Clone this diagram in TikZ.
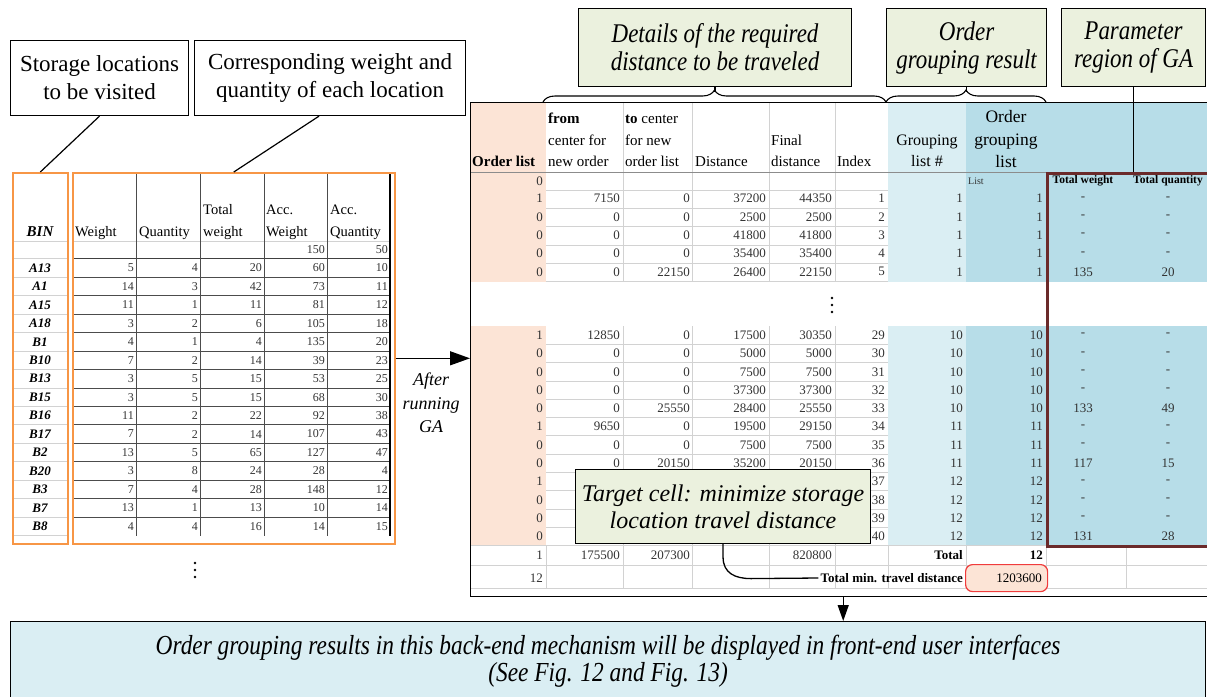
\documentclass[tikz,border=0pt]{standalone}
\usepackage{fontspec}
\setmainfont{Liberation Serif}
\newfontfamily\narrowserif[FakeStretch=0.85]{Liberation Serif}
\usetikzlibrary{decorations.pathreplacing,arrows.meta}

\definecolor{cellpink}{HTML}{FCE4D6}
\definecolor{lightblue}{HTML}{DAEEF3}
\definecolor{midblue}{HTML}{B7DDE8}
\definecolor{notegreen}{HTML}{EBF1DE}
\definecolor{frameorange}{HTML}{F79646}
\definecolor{paramred}{HTML}{6B2A2A}
\definecolor{gridgray}{HTML}{D2D2D2}
\definecolor{targetred}{HTML}{F03C3C}
\definecolor{celltext}{HTML}{333333}

\begin{document}
\begin{tikzpicture}[x=1pt,y=-1pt,
  every node/.style={inner sep=0pt},
  labelbox/.style={draw=black,line width=1.1pt,fill=white,align=center,
    font=\fontsize{23}{28}\selectfont},
  notebox/.style={draw=black,line width=1.1pt,fill=notegreen,align=center,
    font=\narrowserif\itshape\fontsize{27}{28}\selectfont},
  lhdr/.style={anchor=base west,font=\fontsize{14.5}{16}\selectfont},
  lnum/.style={anchor=east,text=celltext,font=\fontsize{12}{14}\selectfont},
  lbin/.style={font=\bfseries\itshape\fontsize{13}{14}\selectfont},
  rhdr/.style={anchor=base west,font=\fontsize{15}{17}\selectfont},
  rnum/.style={anchor=east,text=celltext,font=\fontsize{13}{15}\selectfont},
  rbold/.style={anchor=east,font=\bfseries\fontsize{13}{15}\selectfont},
  rdash/.style={text=celltext,font=\fontsize{13}{15}\selectfont},
  gridl/.style={draw=gridgray,line width=0.8pt},
  darkgrid/.style={draw=black!70,line width=0.9pt},
  orangeframe/.style={draw=frameorange,line width=1.6pt,anchor=north west},
  connector/.style={draw=black,line width=1.2pt},
  bigarrow/.style={draw=black,line width=1.3pt,-{Triangle[length=20pt,width=14pt]}},
  downarrow/.style={draw=black,line width=1.3pt,-{Triangle[length=16pt,width=11pt]}},
  bracket/.style={draw=black,line width=1.1pt,decorate,decoration={brace,amplitude=12pt}}
]
\useasboundingbox (0,0) rectangle (1207,696);

% ---------------- input table: bins, weights and quantities ----------------
% grid of the BIN column
\draw[gridl] (12,241) -- (67,241);
\foreach \k in {0,...,15}
  \draw[gridl] (12,{258.8+18.45*\k}) -- (67,{258.8+18.45*\k});
% grid of the data columns
\draw[gridl] (72,241) -- (390,241);
\draw[draw=black!75,line width=1.3pt] (72,258.8) -- (390,258.8);
\foreach \k in {1,...,14}
  \draw[darkgrid] (72,{258.8+18.45*\k}) -- (390,{258.8+18.45*\k});
\foreach \gx in {136,200,264,327}
  \draw[darkgrid] (\gx,172) -- (\gx,535.5);
\draw[draw=black,line width=1.8pt] (390,172) -- (390,535.5);

% column headings
\node[lhdr,anchor=base,font=\bfseries\itshape\fontsize{15}{16}\selectfont] (lh-bin) at (40,236.5) {BIN};
\node[lhdr] (lh-w) at (75,236.5) {Weight};
\node[lhdr] (lh-q) at (139,236.5) {Quantity};
\node[lhdr] (lh-t1) at (203,214.5) {Total};
\node[lhdr] (lh-t2) at (203,236.5) {weight};
\node[lhdr] (lh-aw1) at (266,214.5) {Acc.};
\node[lhdr] (lh-aw2) at (266,236.5) {Weight};
\node[lhdr] (lh-aq1) at (330,214.5) {Acc.};
\node[lhdr] (lh-aq2) at (330,236.5) {Quantity};
\node[lnum] (l-acc-w) at (325,250) {150};
\node[lnum] (l-acc-q) at (388,250) {50};

% one row per storage location
\foreach \bn/\w/\q/\tw/\aw/\aq [count=\n] in {
  A13/5/4/20/60/10, A1/14/3/42/73/11, A15/11/1/11/81/12, A18/3/2/6/105/18,
  B1/4/1/4/135/20, B10/7/2/14/39/23, B13/3/5/15/53/25, B15/3/5/15/68/30,
  B16/11/2/22/92/38, B17/7/2/14/107/43, B2/13/5/65/127/47, B20/3/8/24/28/4,
  B3/7/4/28/148/12, B7/13/1/13/10/14, B8/4/4/16/14/15} {
  \node[lbin] (bin-\n) at (40,{268+18.45*(\n-1)}) {\bn};
  \node[lnum] (w-\n)   at (134,{268+18.45*(\n-1)}) {\w};
  \node[lnum] (q-\n)   at (198,{268+18.45*(\n-1)}) {\q};
  \node[lnum] (tw-\n)  at (262,{268+18.45*(\n-1)}) {\tw};
  \node[lnum] (aw-\n)  at (325,{268+18.45*(\n-1)}) {\aw};
  \node[lnum] (aq-\n)  at (388,{268+18.45*(\n-1)}) {\aq};
}
% continuation dots below the input table
\foreach \dy in {563,570,577} \fill (195,\dy) circle (1.4pt);

% orange frames around the two parts of the input table
\node[orangeframe,minimum width=55,minimum height=371] (binframe) at (12,172) {};
\node[orangeframe,minimum width=322,minimum height=371] (dataframe) at (72,172) {};

% ---------------- result sheet after the GA run ----------------
\fill[cellpink] (470,102) rectangle (546,281.5);
\fill[cellpink] (470,326) rectangle (546,545.6);
\fill[lightblue] (888,102) rectangle (966,281.5);
\fill[lightblue] (888,326) rectangle (966,545.6);
\fill[midblue] (966,102) rectangle (1212,281.5);
\fill[midblue] (966,326) rectangle (1212,545.6);

% grid
\foreach \gx in {623,692,769,835} {
  \draw[gridl] (\gx,102) -- (\gx,281.5);
  \draw[gridl] (\gx,326) -- (\gx,588);
}
\foreach \gx in {546,888,966,1046,1126}
  \draw[gridl] (\gx,545.6) -- (\gx,588);
\draw[draw=black!45,line width=0.8pt] (470,172) -- (1046,172);
\foreach \k in {0,...,5}
  \draw[gridl] (546,{190+18.3*\k}) -- (888,{190+18.3*\k});
\foreach \k in {1,...,11}
  \draw[gridl] (546,{326+18.3*\k}) -- (888,{326+18.3*\k});
\foreach \gy in {545.6,565,588}
  \draw[gridl] (470,\gy) -- (1212,\gy);

% headings
\node[rhdr] (rh-ol) at (472,166) {\bfseries Order list};
\node[rhdr] (rh-fr1) at (548,123) {\bfseries from};
\node[rhdr] (rh-fr2) at (548,145) {center for};
\node[rhdr] (rh-fr3) at (548,166) {new order};
\node[rhdr] (rh-to1) at (625,123) {\textbf{to} center};
\node[rhdr] (rh-to2) at (625,145) {for new};
\node[rhdr] (rh-to3) at (625,166) {order list};
\node[rhdr] (rh-di) at (695,166) {Distance};
\node[rhdr] (rh-fd1) at (771,145) {Final};
\node[rhdr] (rh-fd2) at (771,166) {distance};
\node[rhdr] (rh-ix) at (837,166) {Index};
\node[rhdr,anchor=base,font=\fontsize{16}{18}\selectfont] (rh-gl1) at (927,145) {Grouping};
\node[rhdr,anchor=base,font=\fontsize{16}{18}\selectfont] (rh-gl2) at (927,166) {list \#};
\node[rhdr,anchor=base,font=\fontsize{17.5}{19}\selectfont] (rh-og1) at (1006,122) {Order};
\node[rhdr,anchor=base,font=\fontsize{17.5}{19}\selectfont] (rh-og2) at (1006,145) {grouping};
\node[rhdr,anchor=base,font=\fontsize{17.5}{19}\selectfont] (rh-og3) at (1006,167) {list};

% first row of the sheet
\node[rnum] (ol-0) at (543,181) {0};
\node[anchor=west,text=celltext,font=\fontsize{10}{12}\selectfont] (og-list) at (968,181) {List};
\node[font=\bfseries\fontsize{11.5}{13}\selectfont] (tw-head) at (1083,181) {Total weight};
\node[font=\bfseries\fontsize{11.5}{13}\selectfont] (tq-head) at (1168,181) {Total quantity};

% order rows: y / order list / from / to / distance / final / index / group / list / weight / quantity
\foreach \ry/\vol/\vfr/\vto/\vdi/\vfd/\vix/\vgl/\vog/\vtw/\vtq [count=\n] in {
  198.6/1/7150/0/37200/44350/1/1/1/-/-,
  216.9/0/0/0/2500/2500/2/1/1/-/-,
  235.2/0/0/0/41800/41800/3/1/1/-/-,
  253.5/0/0/0/35400/35400/4/1/1/-/-,
  271.8/0/0/22150/26400/22150/5/1/1/135/20,
  335.2/1/12850/0/17500/30350/29/10/10/-/-,
  353.5/0/0/0/5000/5000/30/10/10/-/-,
  371.8/0/0/0/7500/7500/31/10/10/-/-,
  390.1/0/0/0/37300/37300/32/10/10/-/-,
  408.4/0/0/25550/28400/25550/33/10/10/133/49,
  426.7/1/9650/0/19500/29150/34/11/11/-/-,
  445.0/0/0/0/7500/7500/35/11/11/-/-,
  463.3/0/0/20150/35200/20150/36/11/11/117/15,
  481.6/1/////37/12/12/-/-,
  499.9/0/////38/12/12/-/-,
  518.2/0/////39/12/12/-/-,
  536.5/0/////40/12/12/131/28} {
  \node[rnum] (ol-\n) at (543,\ry) {\vol};
  \node[rnum] (fr-\n) at (620,\ry) {\vfr};
  \node[rnum] (to-\n) at (690,\ry) {\vto};
  \node[rnum] (di-\n) at (766,\ry) {\vdi};
  \node[rnum] (fd-\n) at (832,\ry) {\vfd};
  \node[rnum] (ix-\n) at (885,\ry) {\vix};
  \node[rnum] (gl-\n) at (963,\ry) {\vgl};
  \node[rnum] (og-\n) at (1043,\ry) {\vog};
  \node[rdash] (twv-\n) at (1083,\ry) {\vtw};
  \node[rdash] (tqv-\n) at (1168,\ry) {\vtq};
}
% rows skipped between the two blocks
\foreach \dy in {298,305,312} \fill (832,\dy) circle (1.4pt);

% totals
\node[rnum] (ol-sum) at (543,555) {1};
\node[rnum] (fr-sum) at (620,555) {175500};
\node[rnum] (to-sum) at (690,555) {207300};
\node[rnum] (fd-sum) at (832,555) {820800};
\node[rbold] (gl-sum) at (963,555) {Total};
\node[rbold] (og-sum) at (1043,555) {12};
\node[rnum] (ol-cnt) at (543,578) {12};
\node[rbold,inner sep=2pt] (totminlabel) at (965,578) {Total min. travel distance};
\node[draw=targetred,fill=cellpink,rounded corners=7pt,line width=1.2pt,
      minimum width=82,minimum height=27,anchor=north west] (mincell) at (965,564) {};
\node[rnum,text=black] (mincellval) at (1042,578) {1203600};

% sheet frame and GA parameter region
\node[draw=black,line width=1.4pt,minimum width=745,minimum height=494,anchor=north west] (restable) at (470,102) {};
\node[draw=paramred,line width=2.6pt,minimum width=168,minimum height=373,anchor=north west] (paramframe) at (1046,172) {};

% ---------------- callouts ----------------
\node[labelbox,minimum width=178,minimum height=75,anchor=north west] (visitbox) at (10,40)
  {Storage locations\\to be visited};
\node[labelbox,minimum width=271,minimum height=75,anchor=north west] (weightbox) at (194,40)
  {Corresponding weight and\\quantity of each location};
\draw[connector] (visitbox.south) -- (binframe.north);
\draw[connector] ([xshift=-11pt]weightbox.south) -- (dataframe.north);

\node[notebox,minimum width=273,minimum height=78,anchor=north west] (distnote) at (578,8)
  {Details of the required\\distance to be traveled};
\node[notebox,minimum width=160,minimum height=78,anchor=north west] (groupnote) at (886,8)
  {Order\\grouping result};
\node[notebox,minimum width=144,minimum height=78,anchor=north west] (paramnote) at (1061,8)
  {Parameter\\region of GA};
\draw[bracket] (543,102) -- (886,102);
\draw[bracket] (886,102) -- (1046,102);
\draw[connector] (distnote.south) -- ++(0,5);
\draw[connector] (groupnote.south) -- ++(0,5);
\draw[connector] (paramnote.south) -- (paramnote.south |- paramframe.north);

% GA step arrow
\draw[bigarrow] (dataframe.east) -- (dataframe.east -| restable.west);
\node[align=center,font=\itshape\fontsize{18}{23.5}\selectfont] (galabel) at (431,403) {After\\running\\GA};

% target cell note
\node[notebox,font=\itshape\fontsize{24}{27}\selectfont,minimum width=295,minimum height=74,anchor=north west]
  (targetnote) at (575,469) {Target cell: minimize storage\\location travel distance};
\draw[connector,line width=1.3pt] (targetnote.south) -- ++(0,13)
  .. controls +(0,16) and +(-16,0) .. ++(28,21.5) -- (totminlabel.west);

% front-end note
\draw[downarrow] (restable.south) -- (restable.south |- 0,621);
\node[draw=black,line width=1.1pt,fill=lightblue,minimum width=1195,minimum height=80,anchor=north west,
      align=center,font=\narrowserif\itshape\fontsize{27.5}{27}\selectfont] (resultnote) at (10,621)
  {Order grouping results in this back-end mechanism will be displayed in front-end user interfaces\\(See Fig. 12 and Fig. 13)};
\end{tikzpicture}
\end{document}
